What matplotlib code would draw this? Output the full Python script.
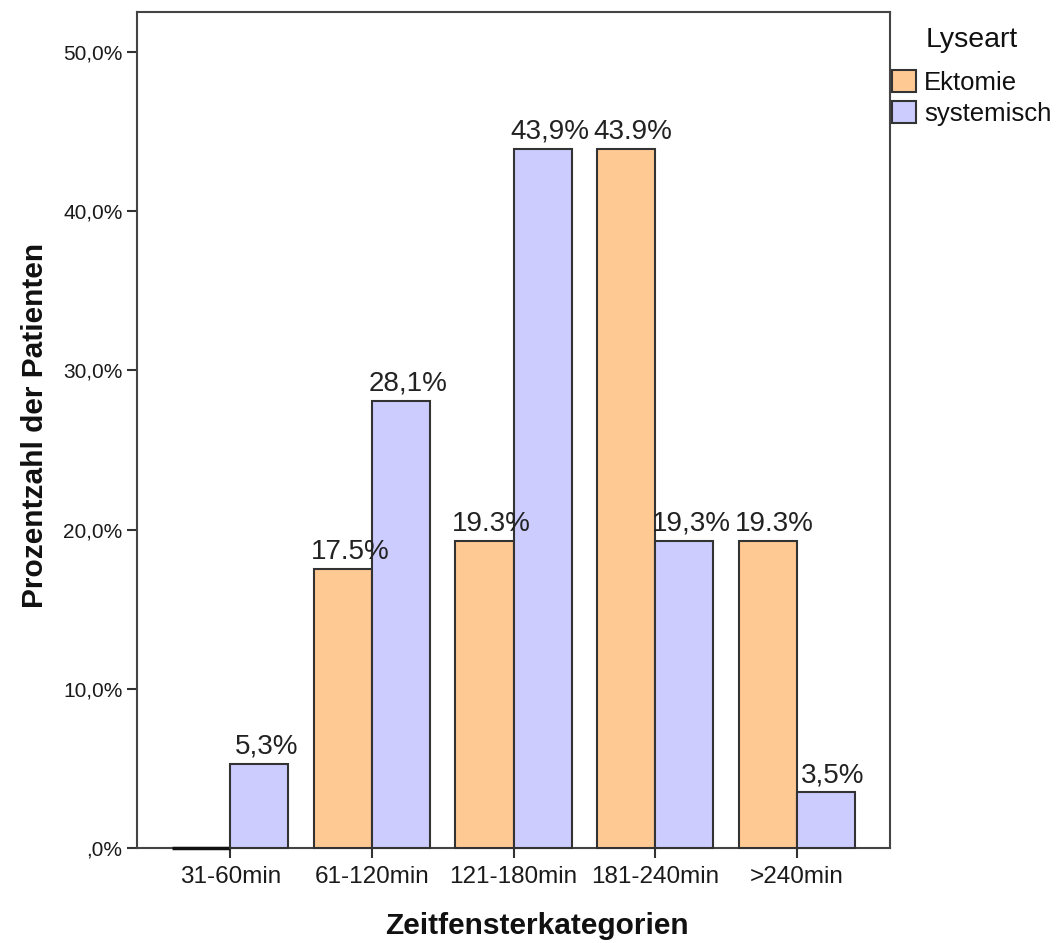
import matplotlib
matplotlib.use("Agg")
import matplotlib.pyplot as plt
import numpy as np

plt.rcParams['font.family'] = ['Liberation Sans', 'DejaVu Sans']

categories = ["31-60min", "61-120min", "121-180min", "181-240min", ">240min"]
ektomie = [0.0, 17.5, 19.3, 43.9, 19.3]
systemisch = [5.3, 28.1, 43.9, 19.3, 3.5]
ektomie_labels = [None, "17.5%", "19.3%", "43.9%", "19.3%"]
systemisch_labels = ["5,3%", "28,1%", "43,9%", "19,3%", "3,5%"]
yticks = [0, 10, 20, 30, 40, 50]
ytick_labels = [",0%", "10,0%", "20,0%", "30,0%", "40,0%", "50,0%"]

c_ekt = "#FFC993"
c_sys = "#CCCCFF"
edge = "#333333"

fig = plt.figure(figsize=(10.56, 9.43), dpi=100)
ax = fig.add_axes([137/1056, 95/943, 753/1056, 836/943])

x = np.arange(len(categories))
w = 0.41
b1 = ax.bar(x - w/2, ektomie, w, color=c_ekt, edgecolor=edge, linewidth=1.5,
            label="Ektomie", zorder=3, clip_on=False)
b2 = ax.bar(x + w/2, systemisch, w, color=c_sys, edgecolor=edge, linewidth=1.5,
            label="systemisch", zorder=3, clip_on=False)
# zero-height bar drawn as a thicker line as in the reference
b1[0].set_linewidth(2.5)
b1[0].set_edgecolor("#111111")

for rect, lab in zip(b1, ektomie_labels):
    if lab:
        ax.annotate(lab, (rect.get_x() + rect.get_width()/2, rect.get_height()),
                    xytext=(5, 3), textcoords="offset points", ha="center", va="bottom",
                    fontsize=20, color="#222222")
for rect, lab in zip(b2, systemisch_labels):
    ax.annotate(lab, (rect.get_x() + rect.get_width()/2, rect.get_height()),
                xytext=(5, 3), textcoords="offset points", ha="center", va="bottom",
                fontsize=20, color="#222222")

ax.set_xlim(-0.66, 4.66)
ax.set_ylim(0, 52.5)
ax.set_xticks(x)
ax.set_xticklabels(categories, fontsize=17.5, color="#1a1a1a")
ax.set_yticks(yticks)
ax.set_yticklabels(ytick_labels, fontsize=15, color="#1a1a1a")
ax.tick_params(axis="both", length=7, width=1.5, color="#333333", direction="out")
ax.tick_params(axis="x", pad=6)
for s in ax.spines.values():
    s.set_color("#444444")
    s.set_linewidth(1.5)

fig.text(537/1056, 1 - 926/943, "Zeitfensterkategorien", fontsize=21.5, fontweight="bold",
         ha="center", va="center", color="#111111")
fig.text(35/1056, 1 - 425/943, "Prozentzahl der Patienten", fontsize=21.5, fontweight="bold",
         ha="center", va="center", rotation=90, color="#111111")

fig.text(972/1056, 1 - 40/943, "Lyseart", fontsize=20.5, ha="center", va="center",
         color="#111111")
leg = ax.legend(handles=[b1[1], b2[0]], labels=["Ektomie", "systemisch"],
                loc="upper left", bbox_to_anchor=(892/1056, 1 - 70/943),
                bbox_transform=fig.transFigure, frameon=False,
                fontsize=18.5, handlelength=0.95, handleheight=0.95,
                handletextpad=0.3, labelspacing=0.25, borderpad=0, borderaxespad=0)
for t in leg.get_texts():
    t.set_color("#111111")

fig.savefig("out.png", dpi=100)
